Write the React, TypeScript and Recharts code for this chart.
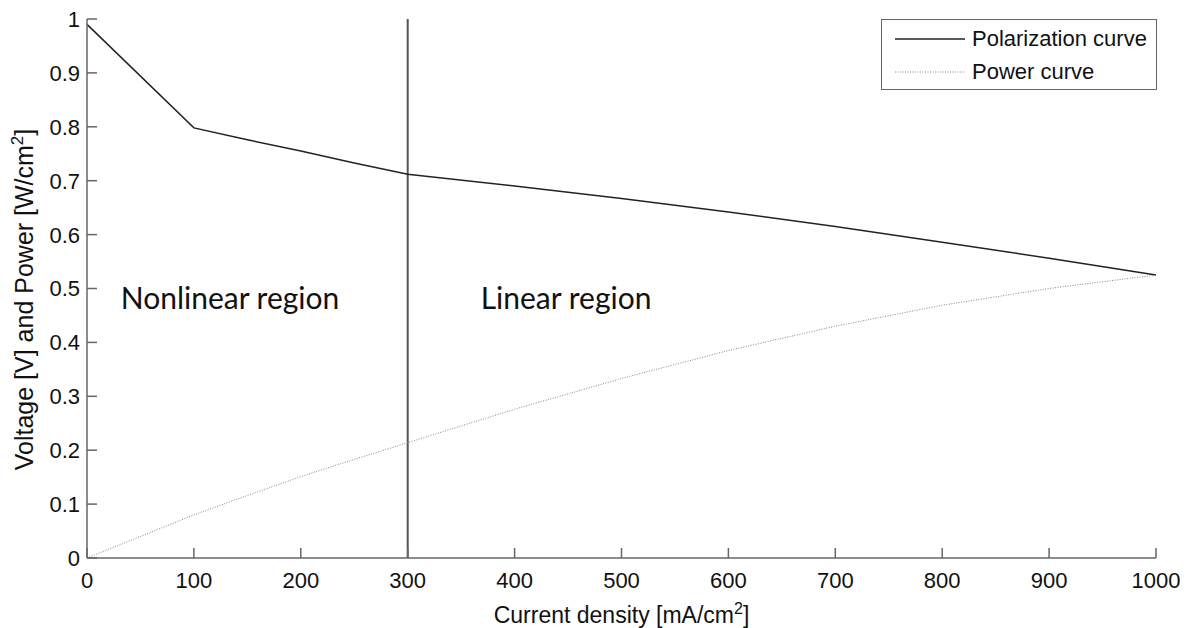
import React from 'react';
import { LineChart, Line, XAxis, YAxis, ReferenceLine, Legend } from 'recharts';

const currentDensity = [0, 100, 150, 200, 250, 300, 400, 500, 600, 700, 800, 900, 1000];
const voltage = [0.99, 0.798, 0.776, 0.755, 0.733, 0.712, 0.69, 0.667, 0.642, 0.615, 0.586, 0.556, 0.525];
const power = [0, 0.08, 0.116, 0.151, 0.183, 0.214, 0.276, 0.333, 0.385, 0.43, 0.469, 0.5, 0.525];
const xTicks = [0, 100, 200, 300, 400, 500, 600, 700, 800, 900, 1000];
const yTicks = [0, 0.1, 0.2, 0.3, 0.4, 0.5, 0.6, 0.7, 0.8, 0.9, 1];
const seriesNames = ['Polarization curve', 'Power curve'];
const regionLabels = ['Nonlinear region', 'Linear region'];
const regionBoundary = 300;

const data = currentDensity.map((c, i) => ({ c, v: voltage[i], p: power[i] }));

const AXIS = '#666';
const FONT = '"Liberation Sans", Arial, Helvetica, sans-serif';
const TICK_FS = 22;
const fmtY = (v: number) => String(Math.round(v * 10) / 10);

const BottomTick = (props: any) => {
  const { x, y, payload } = props;
  return (
    <g>
      <line x1={x} y1={y} x2={x} y2={y - 10} stroke={AXIS} strokeWidth={1.5} />
      <text x={x} y={y + 30} textAnchor="middle" fontSize={TICK_FS} fontFamily={FONT} fill="#111">
        {payload.value}
      </text>
    </g>
  );
};
const TopTick = (props: any) => {
  const { x, y } = props;
  return <line x1={x} y1={y} x2={x} y2={y + 10} stroke={AXIS} strokeWidth={1.5} />;
};
const LeftTick = (props: any) => {
  const { x, y, payload } = props;
  return (
    <g>
      <line x1={x} y1={y} x2={x + 10} y2={y} stroke={AXIS} strokeWidth={1.5} />
      <text x={x - 7} y={y} dy="0.36em" textAnchor="end" fontSize={TICK_FS} fontFamily={FONT} fill="#111">
        {fmtY(payload.value)}
      </text>
    </g>
  );
};
const RightTick = (props: any) => {
  const { x, y } = props;
  return <line x1={x} y1={y} x2={x - 10} y2={y} stroke={AXIS} strokeWidth={1.5} />;
};

const XLabel = (props: any) => {
  const vb = props.viewBox;
  return (
    <text x={vb.x + vb.width / 2} y={vb.y + 65} textAnchor="middle" fontSize={23} fontFamily={FONT} fill="#111">
      <tspan>Current density [mA/cm</tspan>
      <tspan dy={-9} fontSize={16}>2</tspan>
      <tspan dy={9}>]</tspan>
    </text>
  );
};
const YLabel = (props: any) => {
  const vb = props.viewBox;
  const cx = 24;
  const cy = vb.y + vb.height / 2 + 11;
  return (
    <text x={cx} y={cy} transform={`rotate(-90 ${cx} ${cy})`} dy="0.36em" textAnchor="middle" fontSize={25} fontFamily={FONT} fill="#111">
      <tspan>Voltage [V] and Power [W/cm</tspan>
      <tspan dy={-10} fontSize={17}>2</tspan>
      <tspan dy={10}>]</tspan>
    </text>
  );
};

const RegionLabels = (props: any) => {
  const vb = props.viewBox;
  const baseY = vb.y + 290;
  const style = { fontSize: 30, fontFamily: 'Lato, "Open Sans", sans-serif', fill: '#111' } as any;
  return (
    <g>
      <text x={vb.x - 287} y={baseY} {...style}>{regionLabels[0]}</text>
      <text x={vb.x + 73} y={baseY} {...style}>{regionLabels[1]}</text>
    </g>
  );
};

const LegendBox = () => (
  <div
    style={{
      width: 276,
      height: 71,
      boxSizing: 'border-box',
      border: `1.5px solid ${AXIS}`,
      background: '#fff',
      position: 'relative',
      fontFamily: FONT,
      fontSize: TICK_FS,
      color: '#111',
    }}
  >
    {seriesNames.map((name, i) => (
      <div key={name} style={{ position: 'absolute', left: 13, top: i === 0 ? 7 : 40, height: 24, display: 'flex', alignItems: 'center' }}>
        <svg width={72} height={24} style={{ display: 'block' }}>
          <line
            x1={0}
            y1={12}
            x2={70}
            y2={12}
            stroke={i === 0 ? '#222' : '#888'}
            strokeWidth={i === 0 ? 1.5 : 1}
            strokeDasharray={i === 0 ? undefined : '1 1.5'}
          />
        </svg>
        <span style={{ marginLeft: 5, whiteSpace: 'nowrap', lineHeight: '24px' }}>{name}</span>
      </div>
    ))}
  </div>
);

export default function App() {
  return (
    <div style={{ position: 'absolute', left: 0, top: 0, width: 1191, height: 628, background: '#fff' }}>
      <LineChart width={1191} height={628} data={data} margin={{ top: 19, right: 35, bottom: 0, left: 0 }}>
        <XAxis
          dataKey="c"
          type="number"
          domain={[0, 1000]}
          ticks={xTicks}
          height={70}
          tickSize={0}
          tickMargin={0}
          tickLine={false}
          axisLine={{ stroke: AXIS, strokeWidth: 1.5 }}
          tick={<BottomTick />}
          interval={0}
          label={<XLabel />}
        />
        <XAxis
          xAxisId="top"
          orientation="top"
          type="number"
          domain={[0, 1000]}
          ticks={xTicks}
          height={0}
          tickSize={0}
          tickMargin={0}
          tickLine={false}
          axisLine={{ stroke: AXIS, strokeWidth: 1.5 }}
          tick={<TopTick />}
          interval={0}
        />
        <YAxis
          type="number"
          domain={[0, 1]}
          ticks={yTicks}
          width={87}
          tickSize={0}
          tickMargin={0}
          tickLine={false}
          axisLine={{ stroke: AXIS, strokeWidth: 1.5 }}
          tick={<LeftTick />}
          interval={0}
          label={<YLabel />}
        />
        <YAxis
          yAxisId="right"
          orientation="right"
          type="number"
          domain={[0, 1]}
          ticks={yTicks}
          width={0}
          tickSize={0}
          tickMargin={0}
          tickLine={false}
          axisLine={{ stroke: AXIS, strokeWidth: 1.5 }}
          tick={<RightTick />}
          interval={0}
        />
        <ReferenceLine x={regionBoundary} stroke="#555" strokeWidth={2} label={<RegionLabels />} />
        <Line
          dataKey="v"
          name={seriesNames[0]}
          stroke="#222"
          strokeWidth={1.5}
          dot={false}
          isAnimationActive={false}
        />
        <Line
          dataKey="p"
          name={seriesNames[1]}
          stroke="#888"
          strokeWidth={1}
          strokeDasharray="1 1.5"
          dot={false}
          isAnimationActive={false}
        />
        <Legend
          layout="vertical"
          align="center"
          verticalAlign="middle"
          content={<LegendBox />}
          wrapperStyle={{ position: 'absolute', left: 881, top: 19, width: 276, height: 71 }}
        />
      </LineChart>
    </div>
  );
}
